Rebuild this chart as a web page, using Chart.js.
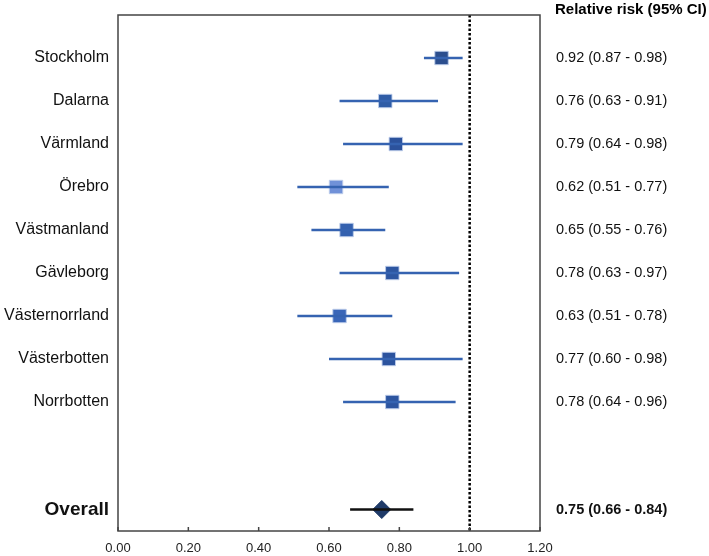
<!DOCTYPE html>
<html>
<head>
<meta charset="utf-8">
<script src="https://cdn.jsdelivr.net/npm/chart.js@4"></script>
<style>
html,body{margin:0;padding:0;background:#fff;}
#wrap{width:709px;height:556px;position:relative;}
</style>
</head>
<body>
<div id="wrap"><canvas id="c" width="709" height="556"></canvas></div>
<script>
// ---- data ----
const regions = ['Stockholm','Dalarna','Värmland','Örebro','Västmanland','Gävleborg','Västernorrland','Västerbotten','Norrbotten'];
const relRisk = [0.92,0.76,0.79,0.62,0.65,0.78,0.63,0.77,0.78];
const ciLower = [0.87,0.63,0.64,0.51,0.55,0.63,0.51,0.60,0.64];
const ciUpper = [0.98,0.91,0.98,0.77,0.76,0.97,0.78,0.98,0.96];
const overallLabel = 'Overall';
const overallRR = 0.75;
const overallLower = 0.66;
const overallUpper = 0.84;
const headerLabel = 'Relative risk (95% CI)';
const referenceValue = 1.0;
const xTicks = [0,0.2,0.4,0.6,0.8,1.0,1.2];

// ---- styles ----
const markerColors = ['#2B4E8E','#2F5CA6','#2C529C','#7091D8','#3461AF','#2D56A1','#3A66B8','#2C539E','#2D55A0'];
const ciColor = '#3563B1';
const FONT = '"Liberation Sans", Arial, sans-serif';

const rowPos = regions.map((_, i) => i);
const overallPos = 10.5;
const allTickPos = rowPos.concat([overallPos]);
const fmt = v => v.toFixed(2);
const rightLabels = regions.map((_, i) => `${fmt(relRisk[i])} (${fmt(ciLower[i])} - ${fmt(ciUpper[i])})`);
const overallText = `${fmt(overallRR)} (${fmt(overallLower)} - ${fmt(overallUpper)})`;

const datasets = [];
regions.forEach((r, i) => {
  datasets.push({
    type: 'line',
    data: [{x: ciLower[i], y: rowPos[i]}, {x: ciUpper[i], y: rowPos[i]}],
    borderColor: ciColor, borderWidth: 2.5, pointRadius: 0, showLine: true, fill: false
  });
});
datasets.push({
  type: 'line',
  data: [{x: overallLower, y: overallPos}, {x: overallUpper, y: overallPos}],
  borderColor: '#111', borderWidth: 2.5, pointRadius: 0, showLine: true, fill: false
});
datasets.push({
  type: 'line',
  data: [{x: referenceValue, y: -1}, {x: referenceValue, y: 11}],
  borderColor: '#000', borderWidth: 2.5, borderDash: [2.5, 2], pointRadius: 0, showLine: true, fill: false
});
datasets.push({
  type: 'scatter',
  data: regions.map((_, i) => ({x: relRisk[i], y: rowPos[i]})),
  pointStyle: 'rect', pointRadius: 9.5, pointHoverRadius: 9.5,
  backgroundColor: markerColors, borderColor: 'rgba(190,205,235,0.9)', borderWidth: 1
});
datasets.push({
  type: 'scatter',
  data: [{x: overallRR, y: overallPos}],
  pointStyle: 'rectRot', pointRadius: 9, pointHoverRadius: 9,
  backgroundColor: '#1F3A68', borderColor: '#1F3A68', borderWidth: 1
});

const framePlugin = {
  id: 'frame',
  afterDatasetsDraw(chart) {
    const {ctx, chartArea: a, scales} = chart;
    ctx.save();
    ctx.strokeStyle = '#444';
    ctx.lineWidth = 1.5;
    ctx.strokeRect(a.left, a.top, a.right - a.left, a.bottom - a.top);
    // inner tick marks
    xTicks.forEach(v => {
      const px = scales.x.getPixelForValue(v);
      ctx.beginPath(); ctx.moveTo(px, a.bottom); ctx.lineTo(px, a.bottom - 4); ctx.stroke();
    });
    // header
    ctx.fillStyle = '#000';
    ctx.font = 'bold 15px ' + FONT;
    ctx.textAlign = 'left'; ctx.textBaseline = 'middle';
    ctx.fillText(headerLabel, 555, 10);
    ctx.restore();
  }
};

const yBase = {
  type: 'linear', min: -1, max: 11, reverse: true,
  grid: {display: false, drawTicks: false},
  border: {display: false},
  afterBuildTicks(scale) { scale.ticks = allTickPos.map(v => ({value: v})); }
};

new Chart(document.getElementById('c'), {
  data: {datasets},
  options: {
    responsive: false, animation: false,
    layout: {padding: {top: 15, left: 0, right: 0, bottom: 0}},
    plugins: {legend: {display: false}, tooltip: {enabled: false}},
    scales: {
      x: {
        type: 'linear', min: 0, max: 1.2,
        grid: {display: false, drawTicks: false},
        border: {display: false},
        afterBuildTicks(scale) { scale.ticks = xTicks.map(v => ({value: v})); },
        afterFit(scale) { scale.height = 25; },
        ticks: {
          padding: 10, color: '#222',
          font: {family: FONT, size: 13},
          callback: v => Number(v).toFixed(2), maxRotation: 0
        }
      },
      y: Object.assign({}, yBase, {
        position: 'left',
        afterFit(scale) { scale.width = 118; scale.paddingTop = 0; scale.paddingBottom = 0; },
        ticks: {
          padding: 9, color: '#111',
          font: c => (c.tick && c.tick.value === overallPos) ? {family: FONT, size: 19, weight: 'bold'} : {family: FONT, size: 16},
          callback: v => v === overallPos ? overallLabel : regions[v]
        }
      }),
      y2: Object.assign({}, yBase, {
        position: 'right',
        afterFit(scale) { scale.width = 169; scale.paddingTop = 0; scale.paddingBottom = 0; },
        ticks: {
          padding: 16, color: '#111',
          font: c => (c.tick && c.tick.value === overallPos) ? {family: FONT, size: 14.5, weight: 'bold'} : {family: FONT, size: 14.5},
          callback: v => v === overallPos ? overallText : rightLabels[v]
        }
      })
    }
  },
  plugins: [framePlugin]
});
</script>
</body>
</html>
